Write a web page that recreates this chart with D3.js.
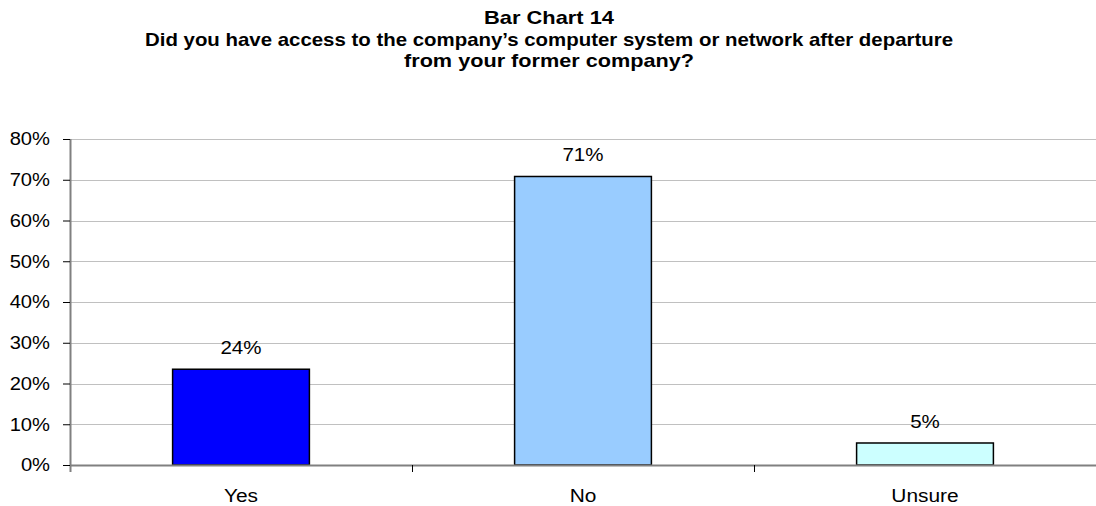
<!DOCTYPE html>
<html><head><meta charset="utf-8">
<script src="https://cdn.jsdelivr.net/npm/d3@7"></script>
<style>body{margin:0;background:#fff}svg{display:block}text{font-family:"Liberation Sans",Arial,sans-serif}</style>
</head><body><svg id="c" width="1096" height="506"></svg>
<script>
const categories = ["Yes", "No", "Unsure"];
const values = [23.5, 70.8, 5.4];
const colors = ["#0000ff", "#99ccff", "#ccffff"];
const yTicks = [0, 10, 20, 30, 40, 50, 60, 70, 80];
const titleLines = ["Bar Chart 14", "Did you have access to the company\u2019s computer system or network after departure", "from your former company?"];

const svg = d3.select("#c");
const W = 1096, H = 506;
const m = {left: 70, right: 0, top: 139, bottom: 41};
const x = d3.scaleBand().domain(categories).range([m.left, W - m.right]).paddingInner(0.6).paddingOuter(0.3);
const xb = d3.scaleBand().domain(categories).range([m.left, W - m.right]).padding(0);
const y = d3.scaleLinear().domain([0, 80]).range([H - m.bottom, m.top]);

function stretch(sel, f) {
  sel.each(function () {
    const w = this.getComputedTextLength();
    d3.select(this).attr("textLength", w * f).attr("lengthAdjust", "spacingAndGlyphs");
  });
}

// title
const titleWidths = [130, 808, 290];
svg.append("g").selectAll("text").data(titleLines).join("text")
  .attr("x", 549).attr("y", (d, i) => 24 + i * 21.5)
  .attr("text-anchor", "middle").attr("font-weight", "bold").attr("font-size", 19).attr("fill", "#000")
  .text(d => d)
  .attr("textLength", (d, i) => titleWidths[i]).attr("lengthAdjust", "spacingAndGlyphs");

// gridlines
svg.append("g").selectAll("line").data(yTicks.filter(t => t > 0)).join("line")
  .attr("x1", m.left).attr("x2", W - m.right)
  .attr("y1", d => Math.round(y(d)) + 0.5).attr("y2", d => Math.round(y(d)) + 0.5)
  .attr("stroke", "#c0c0c0").attr("stroke-width", 1);

// y axis
const ya = svg.append("g").attr("transform", `translate(${m.left},0)`)
  .call(d3.axisLeft(y).tickValues(yTicks).tickFormat(d => d + "%").tickSize(7).tickPadding(13));
ya.select(".domain").attr("stroke", "#808080").attr("stroke-width", 2).attr("d", `M0.5,${y(80)}V${y(0) + 7}`);
ya.selectAll(".tick line").attr("stroke", "#000").attr("stroke-width", 1);
ya.selectAll(".tick text").attr("font-size", 18).attr("fill", "#000").attr("font-family", '"Liberation Sans",Arial,sans-serif').call(stretch, 1.12);

// bars
svg.append("g").selectAll("rect").data(values).join("rect")
  .attr("x", (d, i) => x(categories[i])).attr("width", x.bandwidth())
  .attr("y", d => y(d)).attr("height", d => y(0) - y(d))
  .attr("fill", (d, i) => colors[i]).attr("stroke", "#000").attr("stroke-width", 1.5);

// value labels
svg.append("g").selectAll("text").data(values).join("text")
  .attr("x", (d, i) => x(categories[i]) + x.bandwidth() / 2).attr("y", d => y(d) - 15)
  .attr("text-anchor", "middle").attr("font-size", 18).attr("fill", "#000")
  .text(d => Math.round(d) + "%").call(stretch, 1.14);

// x axis
const xa = svg.append("g").attr("transform", `translate(0,${y(0)})`)
  .call(d3.axisBottom(xb).tickSize(0).tickPadding(24));
xa.select(".domain").attr("stroke", "#808080").attr("stroke-width", 2).attr("d", `M${m.left},0.5H${W}`);
xa.selectAll(".tick text").attr("font-size", 18).attr("fill", "#000").attr("font-family", '"Liberation Sans",Arial,sans-serif').call(stretch, 1.16);
// category separator ticks
svg.append("g").selectAll("line").data(categories.slice(1)).join("line")
  .attr("x1", d => Math.round(xb(d)) + 0.5).attr("x2", d => Math.round(xb(d)) + 0.5)
  .attr("y1", y(0)).attr("y2", y(0) + 7).attr("stroke", "#000").attr("stroke-width", 1);
</script></body></html>
